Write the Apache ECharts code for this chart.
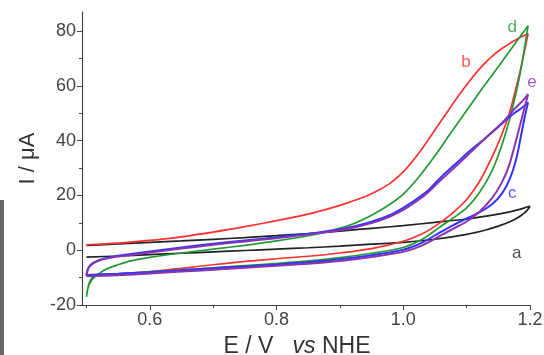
<!DOCTYPE html>
<html><head><meta charset="utf-8">
<script src="https://cdn.jsdelivr.net/npm/echarts@6/dist/echarts.min.js"></script>
<style>html,body{margin:0;padding:0;background:#fff}#c{width:544px;height:355px}</style>
</head><body><div id="c"></div>
<script>
// Curve a (black): forward (anodic) and reverse sweeps, [E / V, I / uA]
const aFwd = [[0.5,-2.5],[0.55,-2.1],[0.6,-1.6],[0.65,-1.1],[0.7,-0.6],[0.75,-0.1],[0.8,0.4],[0.85,0.9],[0.9,1.5],[0.95,2.2],[1.0,2.9],[1.05,4.0],[1.1,5.8],[1.13,7.4],[1.15,8.8],[1.17,10.6],[1.185,12.5],[1.195,14.5],[1.2,16]];
const aRev = [[1.195,15.8],[1.185,15.0],[1.17,14.1],[1.15,13.2],[1.1,11.4],[1.05,10.2],[1.0,9.0],[0.95,8.0],[0.9,7.0],[0.85,6.1],[0.8,5.3],[0.75,4.6],[0.7,4.0],[0.65,3.4],[0.6,2.9],[0.55,2.3],[0.5,1.8]];
// Curve b (red)
const bFwd = [[0.5,-9],[0.52,-8.9],[0.55,-8.6],[0.6,-7.8],[0.65,-6.6],[0.7,-5.3],[0.75,-4.1],[0.8,-3.1],[0.85,-2.2],[0.9,-1.0],[0.95,0.6],[1.0,3.3],[1.03,6.0],[1.058,10.0],[1.08,14.0],[1.1,18.5],[1.12,25],[1.14,34],[1.155,42],[1.168,50.5],[1.184,65],[1.197,79]];
const bRev = [[1.19,78.3],[1.18,77.1],[1.168,75.5],[1.153,73.2],[1.137,70.2],[1.121,66.4],[1.105,61.9],[1.09,57.3],[1.07,50.7],[1.047,42.9],[1.025,35.6],[1.0,28.6],[0.98,24.6],[0.963,22.2],[0.94,19.6],[0.911,17.2],[0.88,15.0],[0.85,13.2],[0.8,10.8],[0.75,8.6],[0.7,6.6],[0.65,4.9],[0.6,3.6],[0.55,2.6],[0.5,2.0]];
// Curve c (blue)
const cFwd = [[0.5,-9],[0.55,-8.6],[0.6,-8.0],[0.65,-7.3],[0.7,-6.6],[0.75,-5.9],[0.8,-5.2],[0.85,-4.4],[0.9,-3.3],[0.95,-1.8],[1.0,0.2],[1.03,2.8],[1.058,6.5],[1.08,9.3],[1.1,11.6],[1.12,13.8],[1.14,16.8],[1.155,20.5],[1.168,26],[1.178,33],[1.186,42],[1.192,49],[1.197,54]];
const cRev = [[1.19,52.5],[1.175,50],[1.157,46.5],[1.13,41],[1.105,36.3],[1.08,31],[1.06,26.8],[1.04,22],[1.02,18.5],[1.0,15.5],[0.98,13],[0.95,10.4],[0.92,8.6],[0.9,7.7],[0.85,6.0],[0.8,4.7],[0.75,3.6],[0.7,2.4],[0.65,1.0],[0.6,-0.5],[0.57,-1.4],[0.55,-2.0],[0.53,-2.9],[0.52,-3.6],[0.51,-4.7],[0.505,-5.8],[0.502,-7],[0.5,-9]];
// Curve d (green)
const dFwd = [[0.5,-17],[0.502,-14],[0.505,-11.5],[0.51,-9.8],[0.52,-9.0],[0.55,-8.6],[0.6,-7.9],[0.65,-7.2],[0.7,-6.4],[0.75,-5.6],[0.8,-4.8],[0.85,-3.9],[0.9,-2.7],[0.95,-1.1],[1.0,1.0],[1.03,4.0],[1.058,8.5],[1.08,12],[1.1,15.5],[1.12,21],[1.14,29],[1.155,38],[1.168,48],[1.184,64],[1.197,82]];
const dRev = [[1.185,78.2],[1.168,72.8],[1.15,67],[1.126,59.5],[1.1,51],[1.074,42.5],[1.05,34.5],[1.022,26],[1.0,20.5],[0.979,16.8],[0.95,12.8],[0.916,9.2],[0.88,6.8],[0.85,5.3],[0.8,3.4],[0.75,1.8],[0.7,0.4],[0.65,-1.0],[0.6,-2.6],[0.57,-3.9],[0.55,-5.3],[0.53,-7.0],[0.52,-8.5],[0.51,-10.4],[0.505,-12.3],[0.502,-14.3],[0.5,-17]];
// Curve e (purple)
const eFwd = [[0.5,-9.5],[0.55,-9.1],[0.6,-8.5],[0.65,-7.8],[0.7,-7.1],[0.75,-6.4],[0.8,-5.7],[0.85,-4.9],[0.9,-3.9],[0.95,-2.5],[1.0,-0.6],[1.03,1.8],[1.06,5.5],[1.08,8],[1.1,10.5],[1.12,14],[1.14,19],[1.155,24.5],[1.167,31],[1.179,41],[1.188,49],[1.197,57]];
const eRev = [[1.19,55],[1.175,51.5],[1.16,47.5],[1.13,41],[1.105,35.5],[1.08,30],[1.06,25.8],[1.04,21.3],[1.02,17.7],[1.0,14.7],[0.98,12.4],[0.95,9.9],[0.92,8.2],[0.9,7.3],[0.85,5.7],[0.8,4.4],[0.75,3.2],[0.7,2.0],[0.65,0.6],[0.6,-0.8],[0.57,-1.7],[0.55,-2.3],[0.53,-3.1],[0.52,-3.8],[0.51,-4.9],[0.505,-6],[0.502,-7.2],[0.5,-9.5]];

const curveNames = ['a','b','c','d','e'];
const curveColors = ['#222222','#ff3030','#3333ff','#229933','#8a35b0'];
const labelPos = [[1.179,-1.3],[1.099,68.5],[1.172,20.8],[1.172,81.5],[1.203,61.4]];
const xTicks = [0.6,0.8,1.0,1.2];
const xMinor = [0.5,0.7,0.9,1.1];
const yTicks = [-20,0,20,40,60,80];
const yMinor = [-10,10,30,50,70];

const loops = [aFwd.concat(aRev), bFwd.concat(bRev), cFwd.concat(cRev), dFwd.concat(dRev), eFwd.concat(eRev)];
const order = [0,1,3,2,4];

const chart = echarts.init(document.getElementById('c'), null, {renderer:'canvas'});
const font = 'Liberation Sans, Arial, sans-serif';
const axisColor = '#444';
const series = order.map(i => ({
  type:'line', name: curveNames[i], data: loops[i], showSymbol:false, smooth:0.3,
  lineStyle:{color: curveColors[i], width: (i===2||i===4)?2:1.7}, xAxisIndex:0, yAxisIndex:0, z: 2
}));
series.push({
  type:'scatter', xAxisIndex:0, yAxisIndex:0, clip:false, symbolSize:0.1,
  data: labelPos.map((p,i)=>({value:p, label:{color: curveColors[i]}, name: curveNames[i]})),
  label:{show:true, position:'inside', formatter: p=>p.name, fontSize:17, fontFamily: font},
  z: 5
});
chart.setOption({
  animation:false,
  grid:{left:82, right:14, top:12, bottom:50, containLabel:false, outerBoundsMode:'none'},
  xAxis:[{
    type:'value', min:0.493, max:1.2,
    name:'{n|E / V   }{i|vs}{n| NHE}', nameLocation:'middle', nameGap:30,
    nameTextStyle:{padding:[0,18,0,0], rich:{n:{fontSize:23, fontFamily:font, color:'#333'}, i:{fontSize:23, fontFamily:font, fontStyle:'italic', color:'#333'}}},
    axisLine:{show:true, onZero:false, lineStyle:{color:axisColor, width:1.2}},
    axisTick:{show:true, customValues:xTicks, length:5, lineStyle:{color:axisColor}},
    axisLabel:{customValues:xTicks, formatter:v=>v.toFixed(1), fontSize:18, fontFamily:font, color:'#444', margin:6},
    splitLine:{show:false}
  },{
    type:'value', min:0.493, max:1.2, position:'bottom',
    axisLine:{show:false, onZero:false}, axisLabel:{show:false}, splitLine:{show:false},
    axisTick:{show:true, customValues:xMinor, length:3, lineStyle:{color:axisColor}}
  }],
  yAxis:[{
    type:'value', min:-20, max:87,
    name:'I / μA', nameLocation:'middle', nameGap:43, nameRotate:90,
    nameTextStyle:{fontSize:22, fontFamily:font, color:'#333'},
    axisLine:{show:true, onZero:false, lineStyle:{color:axisColor, width:1.2}},
    axisTick:{show:true, customValues:yTicks, length:5, lineStyle:{color:axisColor}},
    axisLabel:{customValues:yTicks, fontSize:18, fontFamily:font, color:'#444', margin:6},
    splitLine:{show:false}
  },{
    type:'value', min:-20, max:87, position:'left',
    axisLine:{show:false, onZero:false}, axisLabel:{show:false}, splitLine:{show:false},
    axisTick:{show:true, customValues:yMinor, length:3, lineStyle:{color:axisColor}}
  }],
  graphic:[{type:'rect', shape:{x:0, y:200, width:4, height:155}, style:{fill:'#676767'}}],
  series: series
});
</script></body></html>
